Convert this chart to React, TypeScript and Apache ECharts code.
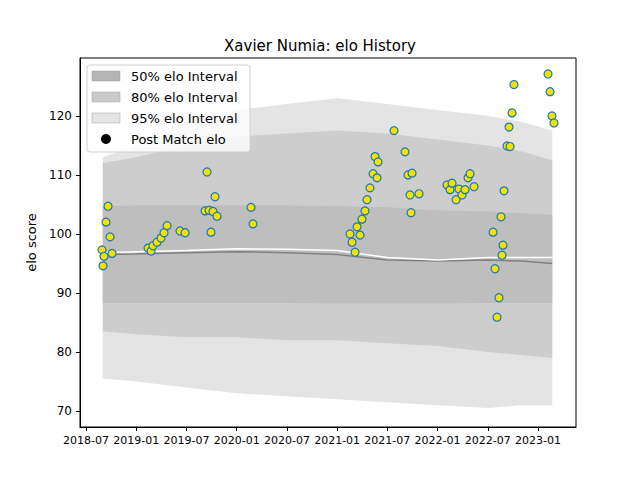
import { useEffect, useRef } from 'react';
import * as echarts from 'echarts';

// months counted from 2018-01-01
const tickMonths = [6, 12, 18, 24, 30, 36, 42, 48, 54, 60];
const tickLabels = ['2018-07', '2019-01', '2019-07', '2020-01', '2020-07', '2021-01', '2021-07', '2022-01', '2022-07', '2023-01'];
const yTicks = [70, 80, 90, 100, 110, 120];

const bandMonths = [8, 12, 18, 24, 30, 36, 42, 48, 54, 58, 61.7];
const lo95 = [75.5, 75, 74, 73, 72.5, 72, 71.5, 71, 70.5, 71, 71];
const hi95 = [113, 115, 118, 121, 122, 123, 122, 121, 120, 119, 117.5];
const lo80 = [83.5, 83, 82.5, 82.5, 82, 82, 81.5, 81, 80, 79.5, 79];
const hi80 = [112, 113, 115, 116.5, 117, 117.5, 117, 116, 115, 114, 112.5];
const lo50 = [88.3, 88.3, 88.3, 88.3, 88.3, 88.2, 88.2, 88.2, 88.3, 88.3, 88.3];
const hi50 = [104.7, 104.8, 104.8, 104.8, 104.8, 104.7, 104.5, 104, 103.8, 103.5, 103.2];
const meanElo = [96.5, 96.6, 96.8, 97, 96.8, 96.5, 95.6, 95.4, 95.6, 95.4, 95];
const fitElo = [96.8, 97, 97.2, 97.5, 97.4, 97.2, 96, 95.6, 96, 96, 96];

const matchMonths = [7.91, 8.15, 8.03, 8.39, 8.63, 8.87, 9.11, 13.41, 13.77, 14.0, 14.48, 14.96, 15.32, 15.68, 17.23, 17.83,
  20.46, 20.22, 20.7, 20.93, 21.17, 21.41, 21.65, 25.71, 25.95, 37.54, 37.78, 38.14, 38.38, 38.74, 38.97, 39.33, 39.57,
  39.93, 40.29, 40.53, 40.89, 40.77, 42.8, 44.11, 44.47, 44.71, 44.95, 44.83, 45.79, 49.13, 49.49, 49.73, 50.21, 50.56,
  50.92, 51.28, 51.64, 51.88, 52.36, 54.63, 54.87, 55.1, 55.34, 55.58, 55.7, 55.82, 55.94, 56.3, 56.54, 56.66, 56.9,
  57.13, 61.2, 61.44, 61.67, 61.91];
const matchElo = [97.3, 96.2, 94.6, 102, 104.7, 99.5, 96.7, 97.6, 97.1, 98, 98.6, 99.3, 100.2, 101.4, 100.5, 100.2,
  110.5, 103.9, 104, 100.3, 103.8, 106.3, 103, 104.5, 101.7, 100, 98.6, 96.9, 101.2, 99.8, 102.5, 103.9, 105.8,
  107.8, 110.2, 113.1, 112.2, 109.5, 117.5, 113.9, 110, 106.6, 110.3, 103.6, 106.8, 108.3, 107.5, 108.6, 105.8, 107.6,
  106.6, 107.5, 109.5, 110.2, 108, 100.3, 94.1, 85.9, 89.2, 102.9, 96.4, 98.1, 107.3, 114.9, 118.1, 114.8, 120.5,
  125.3, 127.1, 124.1, 120, 118.8];

const font = 'DejaVu Sans';

// one polygon per band, positioned through the cartesian scales
function band(lo: number[], hi: number[], color: string, z: number) {
  return {
    type: 'custom', silent: true, z,
    data: [[bandMonths[0], lo[0]]],
    renderItem: (_p: any, api: any) => {
      const upper = bandMonths.map((m, i) => api.coord([m, hi[i]]));
      const lower = bandMonths.map((m, i) => api.coord([m, lo[i]])).reverse();
      return { type: 'polygon', shape: { points: [...upper, ...lower] }, style: { fill: color } };
    },
  };
}

export default function App() {
  const chartRef = useRef<HTMLDivElement>(null);

  useEffect(() => {
    if (!chartRef.current) return;
    const chart = echarts.init(chartRef.current, null, { renderer: 'svg' });

    const legendRows = [
      { label: '50% elo Interval', color: '#b4b4b4' },
      { label: '80% elo Interval', color: '#cacaca' },
      { label: '95% elo Interval', color: '#e5e5e5' },
    ];
    const legend: any[] = [
      { type: 'rect', shape: { x: 87, y: 65, width: 163, height: 87, r: 3 }, style: { fill: 'rgba(255,255,255,0.8)', stroke: '#d0d0d0' }, z: 100 },
    ];
    legendRows.forEach((r, i) => {
      legend.push({ type: 'rect', shape: { x: 92, y: 71 + i * 21, width: 28, height: 10 }, style: { fill: r.color, stroke: '#a0a0a0', lineWidth: 0.5 }, z: 101 });
      legend.push({ type: 'text', x: 131, y: 76 + i * 21, style: { text: r.label, fill: '#000', font: `13px ${font}`, verticalAlign: 'middle' }, z: 101 });
    });
    legend.push({ type: 'circle', shape: { cx: 106, cy: 139, r: 5 }, style: { fill: '#000' }, z: 101 });
    legend.push({ type: 'text', x: 131, y: 139, style: { text: 'Post Match elo', fill: '#000', font: `13px ${font}`, verticalAlign: 'middle' }, z: 101 });

    chart.setOption({
      animation: false,
      backgroundColor: '#fff',
      title: {
        text: 'Xavier Numia: elo History', left: 'center', top: 33,
        textStyle: { fontFamily: font, fontSize: 15, fontWeight: 'normal', color: '#000' },
      },
      grid: { left: 80, right: 64, top: 58, bottom: 53, show: true, borderColor: '#000', borderWidth: 1 },
      xAxis: {
        type: 'value', min: 5.28, max: 64.54,
        splitLine: { show: false },
        axisLine: { lineStyle: { color: '#000' } },
        axisTick: { customValues: tickMonths, length: 4, lineStyle: { color: '#000' } },
        axisLabel: {
          customValues: tickMonths, color: '#000', fontFamily: font, fontSize: 11,
          formatter: (v: number) => tickLabels[tickMonths.indexOf(v)] ?? '',
        },
      },
      yAxis: {
        type: 'value', min: 67.3, max: 129.8,
        name: 'elo score', nameLocation: 'middle', nameGap: 42,
        nameTextStyle: { fontFamily: font, fontSize: 13, color: '#000' },
        splitLine: { show: false },
        axisLine: { show: true, lineStyle: { color: '#000' } },
        axisTick: { show: true, customValues: yTicks, length: 4, lineStyle: { color: '#000' } },
        axisLabel: { customValues: yTicks, color: '#000', fontFamily: font, fontSize: 12 },
      },
      graphic: legend,
      series: [
        band(lo95, hi95, '#e4e4e4', 1),
        band(lo80, hi80, '#cdcdcd', 2),
        band(lo50, hi50, '#bebebe', 3),
        {
          type: 'line', symbol: 'none', silent: true, z: 4,
          lineStyle: { color: '#808080', width: 1.5 },
          data: bandMonths.map((m, i) => [m, meanElo[i]]),
        },
        {
          type: 'line', symbol: 'none', silent: true, z: 5,
          lineStyle: { color: '#ffffff', width: 1.5 },
          data: bandMonths.map((m, i) => [m, fitElo[i]]),
        },
        {
          type: 'scatter', symbolSize: 8, z: 10,
          itemStyle: { color: '#f2e200', borderColor: '#1f77b4', borderWidth: 1.2, opacity: 1 },
          data: matchMonths.map((m, i) => [m, matchElo[i]]),
        },
      ],
    });

    return () => chart.dispose();
  }, []);

  return <div ref={chartRef} style={{ width: 640, height: 480, margin: -8 }} />;
}
